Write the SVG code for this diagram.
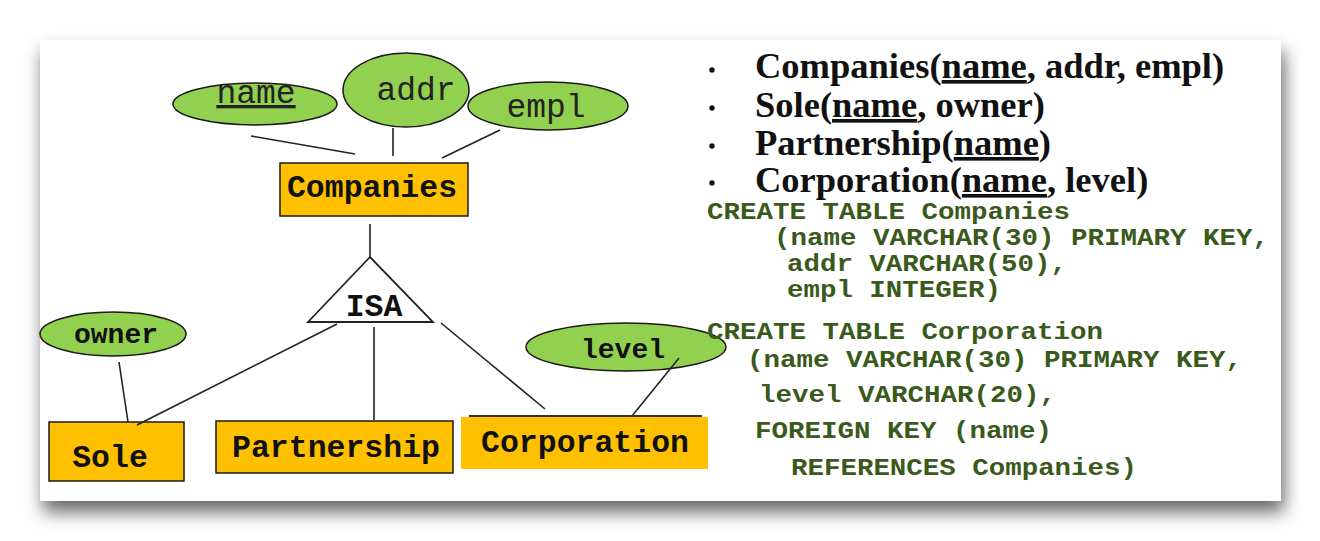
<svg xmlns="http://www.w3.org/2000/svg" width="1320" height="541" viewBox="0 0 1320 541">
<defs>
<filter id="shadow" x="-5%" y="-10%" width="110%" height="130%">
<feDropShadow dx="3" dy="11" stdDeviation="9" flood-color="#000" flood-opacity="0.6"/>
</filter>
<style>
.attr{fill:#92d050;stroke:#1a1a1a;stroke-width:1.5}
.ent{fill:#ffc000;stroke:#1a1a1a;stroke-width:1.5}
.lbl{font-family:"Liberation Mono",monospace;font-weight:bold;font-size:31.5px;fill:#111;text-anchor:middle}
.lbls{font-family:"Liberation Mono",monospace;font-weight:bold;font-size:28px;fill:#111;text-anchor:middle}
.lbln{font-family:"Liberation Mono",monospace;font-size:33px;fill:#222;text-anchor:middle}
.conn line{stroke:#222;stroke-width:1.6}
.rel{font-family:"Liberation Serif",serif;font-weight:bold;font-size:36.5px;fill:#111}
.code{font-family:"Liberation Mono",monospace;font-weight:bold;font-size:23px;fill:#3a5a1c}
</style>
</defs>
<rect width="1320" height="541" fill="#fff"/>
<rect x="40" y="40" width="1241" height="461" fill="#fff" filter="url(#shadow)"/>

<g id="name"><ellipse class="attr" cx="255" cy="104" rx="82" ry="21"/><text class="lbln" x="256" y="103" text-decoration="underline">name</text></g>
<g id="addr"><ellipse class="attr" cx="406" cy="90" rx="63" ry="37"/><text class="lbln" x="416" y="100">addr</text></g>
<g id="empl"><ellipse class="attr" cx="548" cy="106" rx="80" ry="24"/><text class="lbln" x="546" y="117">empl</text></g>
<g id="companies"><rect class="ent" x="280" y="163" width="188" height="53"/><text class="lbl" x="372" y="197">Companies</text></g>
<g id="isa"><polygon points="370,257 308,322 433,322" fill="#fff" stroke="#222" stroke-width="1.8"/><text class="lbl" x="374" y="316">ISA</text></g>
<g id="owner"><ellipse class="attr" cx="113" cy="334" rx="73" ry="22"/><text class="lbls" x="116" y="343">owner</text></g>
<g id="level"><ellipse class="attr" cx="626" cy="347" rx="100" ry="24"/><text class="lbls" x="623" y="358">level</text></g>
<g id="sole"><rect class="ent" x="49" y="422" width="135" height="59"/><text class="lbl" x="110" y="467">Sole</text></g>
<g id="partnership"><rect class="ent" x="216" y="421" width="237" height="52"/><text class="lbl" x="336" y="457">Partnership</text></g>
<g id="corporation"><rect x="461" y="417" width="247" height="52" fill="#ffc000"/><text class="lbl" x="585" y="452">Corporation</text></g>

<g class="conn" id="connectors">
<line x1="251" y1="136" x2="355" y2="154"/>
<line x1="393" y1="128" x2="393" y2="156"/>
<line x1="500" y1="130" x2="442" y2="158"/>
<line x1="370" y1="224" x2="370" y2="257"/>
<line x1="337" y1="324" x2="137" y2="425"/>
<line x1="374" y1="327" x2="374" y2="420"/>
<line x1="441" y1="323" x2="545" y2="409"/>
<line x1="119" y1="362" x2="128" y2="422"/>
<line x1="679" y1="358" x2="632" y2="416"/>
<line x1="469" y1="416" x2="702" y2="416" style="stroke:#333;stroke-width:2"/>
</g>

<g id="relations">
<circle cx="712" cy="70" r="2.7" fill="#111"/>
<circle cx="712" cy="108" r="2.7" fill="#111"/>
<circle cx="712" cy="146" r="2.7" fill="#111"/>
<circle cx="712" cy="183" r="2.7" fill="#111"/>
<text class="rel" x="755" y="78">Companies(<tspan text-decoration="underline">name</tspan>, addr, empl)</text>
<text class="rel" x="755" y="117">Sole(<tspan text-decoration="underline">name</tspan>, owner)</text>
<text class="rel" x="755" y="155">Partnership(<tspan text-decoration="underline">name</tspan>)</text>
<text class="rel" x="755" y="192">Corporation(<tspan text-decoration="underline">name</tspan>, level)</text>
</g>

<g id="sql">
<text class="code" x="707" y="219" textLength="363" lengthAdjust="spacingAndGlyphs">CREATE TABLE Companies</text>
<text class="code" x="774" y="245" textLength="495" lengthAdjust="spacingAndGlyphs">(name VARCHAR(30) PRIMARY KEY,</text>
<text class="code" x="787" y="271" textLength="280" lengthAdjust="spacingAndGlyphs">addr VARCHAR(50),</text>
<text class="code" x="787" y="297" textLength="214" lengthAdjust="spacingAndGlyphs">empl INTEGER)</text>
<text class="code" x="707" y="339" textLength="396" lengthAdjust="spacingAndGlyphs">CREATE TABLE Corporation</text>
<text class="code" x="747" y="367" textLength="495" lengthAdjust="spacingAndGlyphs">(name VARCHAR(30) PRIMARY KEY,</text>
<text class="code" x="759" y="402" textLength="297" lengthAdjust="spacingAndGlyphs">level VARCHAR(20),</text>
<text class="code" x="755" y="438" textLength="297" lengthAdjust="spacingAndGlyphs">FOREIGN KEY (name)</text>
<text class="code" x="791" y="475" textLength="346" lengthAdjust="spacingAndGlyphs">REFERENCES Companies)</text>
</g>
</svg>
